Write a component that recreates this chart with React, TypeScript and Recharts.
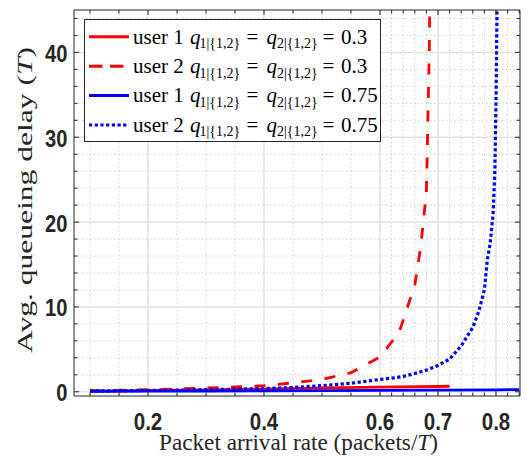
import React from 'react';
import { LineChart, Line, XAxis, YAxis, CartesianGrid } from 'recharts';

// tick positions: data sample points along the arrival-rate axis
const xTicks = [
  0.1, 0.15, 0.2, 0.25, 0.3, 0.35, 0.4, 0.45, 0.5, 0.55, 0.6,
  0.62, 0.64, 0.66, 0.68, 0.7, 0.72, 0.74, 0.76, 0.78, 0.8, 0.82, 0.84,
];
const xLabeled = [0.2, 0.4, 0.6, 0.7, 0.8];
const yTicks = [0, 2, 4, 6, 8, 10, 12, 14, 16, 18, 20, 22, 24, 26, 28, 30, 32, 34, 36, 38, 40, 42, 44];
const yLabeled = [0, 10, 20, 30, 40];

// user 1, q = 0.3
const u1q03X = [0.1, 0.2, 0.3, 0.4, 0.5, 0.6, 0.7, 0.72];
const u1q03Y = [0.08, 0.14, 0.22, 0.32, 0.45, 0.54, 0.62, 0.65];

// user 2, q = 0.3
const u2q03X = [0.1, 0.15, 0.2, 0.25, 0.3, 0.35, 0.4, 0.45, 0.5, 0.55, 0.6, 0.633, 0.66, 0.67, 0.68, 0.685, 0.69];
const u2q03Y = [0.12, 0.18, 0.25, 0.33, 0.44, 0.57, 0.72, 1.05, 1.45, 2.25, 4.1, 7.0, 12.6, 17, 23.5, 40, 80];

// user 1, q = 0.75
const u1q075X = [0.1, 0.2, 0.3, 0.4, 0.5, 0.6, 0.7, 0.8, 0.84];
const u1q075Y = [0.05, 0.07, 0.09, 0.11, 0.13, 0.16, 0.19, 0.23, 0.25];

// user 2, q = 0.75
const u2q075X = [
  0.1, 0.15, 0.2, 0.25, 0.3, 0.35, 0.4, 0.45, 0.5, 0.55, 0.6, 0.62, 0.64, 0.66, 0.68,
  0.7, 0.72, 0.74, 0.76, 0.77, 0.78, 0.785, 0.79, 0.795, 0.798, 0.8, 0.802,
];
const u2q075Y = [
  0.1, 0.12, 0.15, 0.19, 0.24, 0.3, 0.38, 0.5, 0.72, 1.0, 1.45, 1.6, 1.8, 2.15, 2.55,
  3.1, 3.85, 5.4, 7.6, 9.4, 12.0, 15.5, 17.5, 21, 26, 34, 46,
];

const legendUser = ['1', '2', '1', '2'];
const legendQ = ['0.3', '0.3', '0.75', '0.75'];

const zip = (xs: number[], ys: number[]) => xs.map((x, i) => ({ x, y: ys[i] }));

const DASHED = '11 12.5';
const DOTTED = '3.2 2.5';

const series = [
  { data: zip(u1q03X, u1q03Y), color: '#ff0000', dash: undefined, legendDash: undefined },
  { data: zip(u2q03X, u2q03Y), color: '#ff0000', dash: DASHED, legendDash: '13.5 7.5' },
  { data: zip(u1q075X, u1q075Y), color: '#0000ff', dash: undefined, legendDash: undefined },
  { data: zip(u2q075X, u2q075Y), color: '#0000ff', dash: DOTTED, legendDash: DOTTED },
];

const AXIS = '#262626';
const X_DOMAIN = [0.0724, 0.8414];
const Y_DOMAIN = [-0.5, 45];

const tickFont = {
  fontFamily: '"Liberation Sans", Arial, sans-serif',
  fontWeight: 700,
  fontSize: 23,
  fill: AXIS,
};

const BottomTick = (props: any) => {
  const { x, y, payload } = props;
  const major = xLabeled.includes(payload.value);
  return (
    <g>
      <line x1={x} x2={x} y1={y} y2={y - (major ? 5 : 3.5)} stroke={AXIS} strokeWidth={1} />
      {major && (
        <text x={x} y={y + 34} textAnchor="middle" textLength={28.5} lengthAdjust="spacingAndGlyphs" {...tickFont}>
          {payload.value.toFixed(1)}
        </text>
      )}
    </g>
  );
};

const TopTick = (props: any) => {
  const { x, y, payload } = props;
  const major = xLabeled.includes(payload.value);
  return <line x1={x} x2={x} y1={y} y2={y + (major ? 5 : 3.5)} stroke={AXIS} strokeWidth={1} />;
};

const LeftTick = (props: any) => {
  const { x, y, payload } = props;
  const major = yLabeled.includes(payload.value);
  const label = String(payload.value);
  return (
    <g>
      <line x1={x} x2={x + (major ? 5 : 3.5)} y1={y} y2={y} stroke={AXIS} strokeWidth={1} />
      {major && (
        <text
          x={x - 6.5}
          y={y + 9.5}
          textAnchor="end"
          textLength={label.length * 11.2}
          lengthAdjust="spacingAndGlyphs"
          {...tickFont}
        >
          {label}
        </text>
      )}
    </g>
  );
};

const RightTick = (props: any) => {
  const { x, y, payload } = props;
  const major = yLabeled.includes(payload.value);
  return <line x1={x} x2={x - (major ? 5 : 3.5)} y1={y} y2={y} stroke={AXIS} strokeWidth={1} />;
};

const serif = '"Liberation Serif", "DejaVu Serif", serif';

const LegendBox = () => (
  <g>
    <rect x={84.5} y={19.5} width={296} height={122} fill="#fff" stroke={AXIS} strokeWidth={1} />
    {series.map((s, i) => {
      const cy = 36.8 + i * 29.4;
      const base = cy + 6.8;
      const sub = base + 4.5;
      return (
        <g key={i}>
          <line
            x1={89}
            x2={129}
            y1={cy}
            y2={cy}
            stroke={s.color}
            strokeWidth={s.legendDash === DOTTED ? 3.2 : 3}
            strokeDasharray={s.legendDash}
          />
          <text fontFamily={serif} fontSize={21} fill="#000">
            <tspan x={133} y={base}>{`user ${legendUser[i]}`}</tspan>
            <tspan x={190} y={base} fontStyle="italic">q</tspan>
            <tspan x={199.5} y={sub} fontSize={14}>1|{'{'}1,2{'}'}</tspan>
            <tspan x={246.5} y={base}>=</tspan>
            <tspan x={266.5} y={base} fontStyle="italic">q</tspan>
            <tspan x={277} y={sub} fontSize={14}>2|{'{'}1,2{'}'}</tspan>
            <tspan x={322.5} y={base}>=</tspan>
            <tspan x={341} y={base}>{legendQ[i]}</tspan>
          </text>
        </g>
      );
    })}
  </g>
);

const AxisTitles = () => (
  <g fontFamily={serif} fill="#262626">
    <text
      x={298.5}
      y={450}
      fontSize={23}
      textAnchor="middle"
      textLength={279}
      lengthAdjust="spacingAndGlyphs"
    >
      Packet arrival rate (packets/<tspan fontStyle="italic">T</tspan>)
    </text>
    <text
      x={31.5}
      y={200}
      fontSize={22}
      textAnchor="middle"
      textLength={306}
      lengthAdjust="spacingAndGlyphs"
      transform="rotate(-90 31.5 200)"
    >
      Avg.  queueing delay (<tspan fontStyle="italic">T</tspan>)
    </text>
  </g>
);

const minorX = xTicks.filter((v) => !xLabeled.includes(v));
const minorY = yTicks.filter((v) => !yLabeled.includes(v));

const App = () => {
  return (
    <div style={{ position: 'absolute', left: 0, top: 0, width: 530, height: 456, background: '#fff' }}>
      <LineChart width={530} height={456} margin={{ top: 9, right: 9, bottom: 59, left: 73 }}>
        <CartesianGrid
          verticalValues={minorX}
          horizontalValues={minorY}
          stroke="#c4c4c4"
          strokeDasharray="1.2 2.8"
          strokeWidth={1}
        />
        <CartesianGrid verticalValues={xLabeled} horizontalValues={yLabeled} stroke="#e3e3e3" strokeWidth={1.5} />
        <XAxis
          dataKey="x"
          type="number"
          domain={X_DOMAIN}
          allowDataOverflow
          ticks={xTicks}
          interval={0}
          height={1}
          tickSize={0}
          tickMargin={0}
          tickLine={false}
          axisLine={{ stroke: AXIS, strokeWidth: 1 }}
          tick={BottomTick}
        />
        <XAxis
          xAxisId="top"
          orientation="top"
          dataKey="x"
          type="number"
          domain={X_DOMAIN}
          allowDataOverflow
          ticks={xTicks}
          interval={0}
          height={1}
          tickSize={0}
          tickMargin={0}
          tickLine={false}
          axisLine={{ stroke: AXIS, strokeWidth: 1 }}
          tick={TopTick}
        />
        <YAxis
          type="number"
          domain={Y_DOMAIN}
          allowDataOverflow
          ticks={yTicks}
          interval={0}
          width={1}
          tickSize={0}
          tickMargin={0}
          tickLine={false}
          axisLine={{ stroke: AXIS, strokeWidth: 1 }}
          tick={LeftTick}
        />
        <YAxis
          yAxisId="right"
          orientation="right"
          type="number"
          domain={Y_DOMAIN}
          allowDataOverflow
          ticks={yTicks}
          interval={0}
          width={1}
          tickSize={0}
          tickMargin={0}
          tickLine={false}
          axisLine={{ stroke: AXIS, strokeWidth: 1 }}
          tick={RightTick}
        />
        {series.map((s, i) => (
          <Line
            key={i}
            data={s.data}
            dataKey="y"
            type="linear"
            stroke={s.color}
            strokeWidth={s.dash === DOTTED ? 3.2 : 2.8}
            strokeDasharray={s.dash}
            dot={false}
            activeDot={false}
            isAnimationActive={false}
          />
        ))}
        <LegendBox />
        <AxisTitles />
      </LineChart>
    </div>
  );
};

export default App;
